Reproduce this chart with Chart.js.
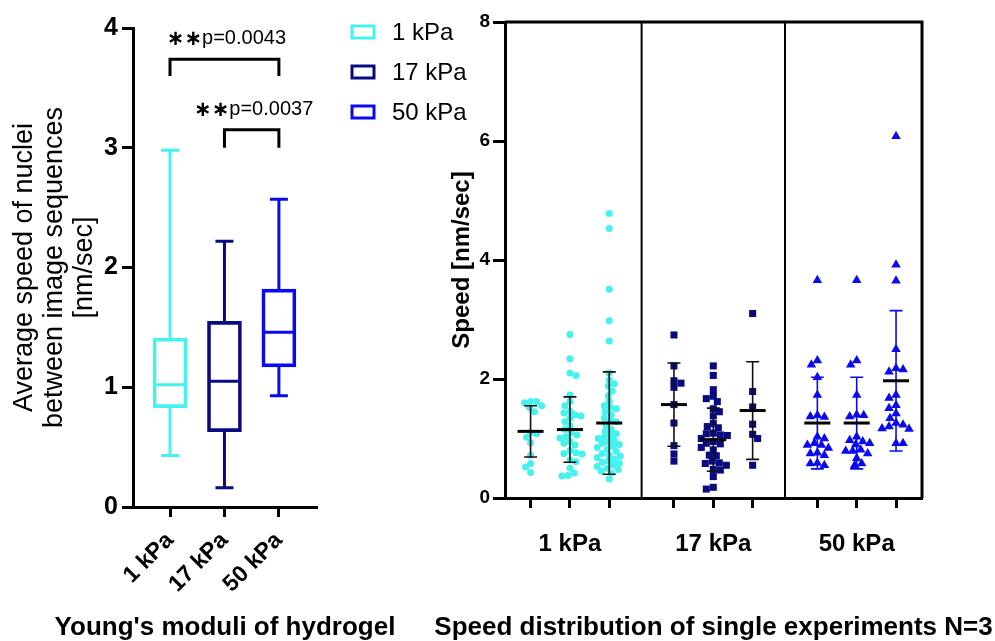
<!DOCTYPE html>
<html>
<head>
<meta charset="utf-8">
<script src="https://cdn.jsdelivr.net/npm/chart.js@4.4.1/dist/chart.umd.min.js"></script>
<style>
    html, body { margin: 0; padding: 0; background: #fff; width: 995px; height: 641px; overflow: hidden; }
    #boxWrap { position: absolute; left: 0; top: 0; width: 500px; height: 641px; }
    #dotWrap { position: absolute; left: 420px; top: 0; width: 575px; height: 641px; }
</style>
</head>
<body>
<div id="boxWrap"><canvas id="boxChart"></canvas></div>
<div id="dotWrap"><canvas id="dotChart"></canvas></div>
<script>
var categories = ['1 kPa', '17 kPa', '50 kPa'];
var colors = ['#45f2ee', '#0b0b80', '#0a0af2'];

// box plot (left)
var boxMin = [0.43, 0.16, 0.93];
var boxQ1 = [0.83, 0.63, 1.17];
var boxMedian = [1.02, 1.05, 1.46];
var boxQ3 = [1.41, 1.55, 1.82];
var boxMax = [2.98, 2.22, 2.57];
var compareFrom = [0, 1];
var compareTo = [2, 2];
var compareStars = ['\u2217\u2217', '\u2217\u2217'];
var compareText = ['p=0.0043', 'p=0.0037'];

// single experiments (right), three per stiffness
var speed1kA = [1.62, 1.62, 1.60, 1.55, 1.52, 1.45, 1.10, 1.08, 1.02, 0.93, 0.72, 0.58, 0.52, 0.43];
var speed1kB = [2.75, 2.34, 2.10, 2.06, 1.73, 1.62, 1.55, 1.46, 1.43, 1.40, 1.38, 1.34, 1.28, 1.22, 1.15, 1.10,
    1.06, 1.03, 1.01, 0.95, 0.92, 0.89, 0.80, 0.76, 0.75, 0.74, 0.64, 0.61, 0.50, 0.42, 0.38, 0.37];
var speed1kC = [4.78, 4.53, 3.51, 2.98, 2.64, 2.10, 1.98, 1.92, 1.88, 1.80, 1.72, 1.62, 1.55, 1.52, 1.50, 1.45,
    1.40, 1.35, 1.30, 1.28, 1.22, 1.15, 1.12, 1.08, 1.05, 1.02, 1.00, 0.97, 0.94, 0.92, 0.90, 0.87, 0.85, 0.82,
    0.78, 0.75, 0.72, 0.70, 0.68, 0.65, 0.62, 0.60, 0.58, 0.55, 0.53, 0.50, 0.48, 0.45, 0.42, 0.32];
var speed17kA = [2.74, 2.22, 1.97, 1.93, 1.86, 1.57, 1.26, 0.88, 0.74, 0.62];
var speed17kB = [2.22, 2.06, 1.82, 1.71, 1.67, 1.62, 1.50, 1.45, 1.38, 1.25, 1.20, 1.18, 1.09, 1.08, 1.06, 1.05,
    1.00, 0.95, 0.92, 0.91, 0.85, 0.81, 0.72, 0.71, 0.62, 0.59, 0.58, 0.55, 0.48, 0.47, 0.36, 0.18, 0.15];
var speed17kC = [3.10, 1.79, 1.53, 1.24, 1.07, 1.00, 0.55];
var speed50kA = [3.66, 2.31, 2.24, 2.03, 1.73, 1.39, 1.37, 1.36, 1.03, 1.00, 0.92, 0.89, 0.89, 0.84, 0.76, 0.75,
    0.72, 0.59, 0.58, 0.55];
var speed50kB = [3.66, 2.31, 2.24, 1.73, 1.40, 1.39, 1.37, 1.03, 0.97, 0.95, 0.92, 0.90, 0.81, 0.79, 0.79, 0.75,
    0.67, 0.58, 0.55];
var speed50kC = [6.08, 3.92, 3.65, 2.50, 2.18, 2.16, 2.12, 1.73, 1.68, 1.56, 1.51, 1.42, 1.34, 1.26, 1.23, 1.20,
    1.17, 1.16, 0.92, 0.92];
var groupMean = [1.12, 1.15, 1.26, 1.57, 0.98, 1.47, 1.26, 1.26, 1.97];
var groupSD = [0.43, 0.55, 0.86, 0.70, 0.53, 0.82, 0.77, 0.77, 1.18];

var experiments = [speed1kA, speed1kB, speed1kC, speed17kA, speed17kB, speed17kC, speed50kA, speed50kB, speed50kC];

var FONT = "'Liberation Sans', Arial, sans-serif";
Chart.defaults.font.family = FONT;
Chart.defaults.color = '#000';
Chart.defaults.animation = false;

// x title drawn by hand so it is not squeezed to the axis width
function drawXTitle(chart, text) {
    var ctx = chart.ctx, x = chart.scales.x;
    ctx.save();
    ctx.fillStyle = '#000';
    ctx.font = 'bold 26px ' + FONT;
    ctx.textAlign = 'center';
    ctx.textBaseline = 'middle';
    ctx.fillText(text, (x.left + x.right) / 2, chart.height - 13);
    ctx.restore();
}

// ---------- left: box plot ----------
var boxPlugin = {
    id: 'boxExtras',
    afterDatasetsDraw: function (chart) {
        var ctx = chart.ctx, x = chart.scales.x, y = chart.scales.y;
        ctx.save();
        ctx.lineWidth = 3;
        categories.forEach(function (c, i) {
            var px = x.getPixelForValue(i + 1);
            ctx.strokeStyle = colors[i];
            ctx.beginPath();
            ctx.moveTo(px, y.getPixelForValue(boxQ3[i]));
            ctx.lineTo(px, y.getPixelForValue(boxMax[i]));
            ctx.moveTo(px - 9, y.getPixelForValue(boxMax[i]));
            ctx.lineTo(px + 9, y.getPixelForValue(boxMax[i]));
            ctx.moveTo(px, y.getPixelForValue(boxQ1[i]));
            ctx.lineTo(px, y.getPixelForValue(boxMin[i]));
            ctx.moveTo(px - 9, y.getPixelForValue(boxMin[i]));
            ctx.lineTo(px + 9, y.getPixelForValue(boxMin[i]));
            ctx.moveTo(px - 16, y.getPixelForValue(boxMedian[i]));
            ctx.lineTo(px + 16, y.getPixelForValue(boxMedian[i]));
            ctx.stroke();
        });
        // significance brackets
        var tops = [3.74, 3.15], legs = [3.60, 3.0], texts = [3.91, 3.32];
        ctx.strokeStyle = '#000';
        ctx.fillStyle = '#000';
        ctx.textBaseline = 'middle';
        ctx.textAlign = 'left';
        compareFrom.forEach(function (f, k) {
            var x1 = x.getPixelForValue(f + 1), x2 = x.getPixelForValue(compareTo[k] + 1);
            ctx.beginPath();
            ctx.moveTo(x1, y.getPixelForValue(legs[k]));
            ctx.lineTo(x1, y.getPixelForValue(tops[k]));
            ctx.lineTo(x2, y.getPixelForValue(tops[k]));
            ctx.lineTo(x2, y.getPixelForValue(legs[k]));
            ctx.stroke();
            var starFont = 'bold 21px DejaVu Sans', textFont = '20px ' + FONT;
            ctx.font = starFont;
            var wStars = ctx.measureText(compareStars[k]).width;
            ctx.font = textFont;
            var wText = ctx.measureText(compareText[k]).width;
            var sx = (x1 + x2) / 2 + 2 - (wStars + wText) / 2, ty = y.getPixelForValue(texts[k]);
            ctx.fillText(compareText[k], sx + wStars, ty);
            ctx.font = starFont;
            ctx.fillText(compareStars[k], sx, ty + 1);
        });
        // legend
        ctx.font = '24px ' + FONT;
        categories.forEach(function (c, i) {
            var ly = 32 + i * 40;
            ctx.strokeStyle = colors[i];
            ctx.strokeRect(352, ly - 6, 22, 12);
            ctx.fillText(c, 392, ly + 1);
        });
        ctx.restore();
    },
    afterDraw: function (chart) { drawXTitle(chart, "Young's moduli of hydrogel"); }
};

new Chart(document.getElementById('boxChart'), {
    type: 'bar',
    data: {
        datasets: [{
            data: categories.map(function (c, i) { return { x: i + 1, y: [boxQ1[i], boxQ3[i]] }; }),
            backgroundColor: 'rgba(255,255,255,0)',
            borderColor: colors,
            borderWidth: 3,
            borderSkipped: false,
            barThickness: 34
        }]
    },
    options: {
        responsive: true,
        maintainAspectRatio: false,
        layout: { padding: { top: 28, right: 183, bottom: 0, left: 0 } },
        plugins: { legend: { display: false }, tooltip: { enabled: false } },
        scales: {
            x: {
                type: 'linear',
                min: 0.32,
                max: 3.7,
                offset: false,
                afterBuildTicks: function (s) { s.ticks = [1, 2, 3].map(function (v) { return { value: v }; }); },
                afterFit: function (s) { s.height = 134; },
                ticks: {
                    autoSkip: false, minRotation: 45, maxRotation: 45, padding: 10,
                    font: { size: 23, weight: 'bold' },
                    callback: function (v) { return categories[v - 1]; }
                },
                grid: { offset: false, drawOnChartArea: false, tickLength: 10, tickWidth: 3, tickColor: '#000' },
                border: { color: '#000', width: 3 }
            },
            y: {
                min: 0,
                max: 4,
                afterFit: function (s) { s.width = 133; },
                ticks: { stepSize: 1, padding: 4, font: { size: 25, weight: 'bold' } },
                grid: { drawOnChartArea: false, tickLength: 11, tickWidth: 3, tickColor: '#000' },
                border: { color: '#000', width: 3 },
                title: {
                    display: true,
                    text: ['Average speed of nuclei', 'between image sequences', '[nm/sec]'],
                    font: { size: 27, lineHeight: '30px' },
                    padding: { top: 10, bottom: 0 }
                }
            }
        }
    },
    plugins: [boxPlugin]
});

// ---------- right: dot plot ----------
function groupX(g) {
    return 0.65 + Math.floor(g / 3) * 3.645 + (g % 3);
}

function swarm(values, center, size) {
    var pxX = 39.3, pxY = 59.5;
    var placed = [];
    var sorted = values.slice().sort(function (a, b) { return b - a; });
    return sorted.map(function (v, i) {
        var py = v * pxY, off = 0;
        for (var d = 0; d < 80; d++) {
            var cands = d === 0 ? [0] : (i % 2 ? [d, -d] : [-d, d]);
            var found = null;
            for (var c = 0; c < cands.length; c++) {
                var px = cands[c];
                var free = placed.every(function (p) { return Math.hypot(p[0] - px, p[1] - py) >= size; });
                if (free) { found = px; break; }
            }
            if (found !== null) { off = found; break; }
        }
        placed.push([off, py]);
        return { x: center + off / pxX, y: v };
    });
}

var styles = ['circle', 'rect', 'triangle'];
var radii = [3.5, 5, 5.5];
var sizes = [6, 6.5, 7];

var dotDatasets = experiments.map(function (vals, g) {
    var k = Math.floor(g / 3);
    return {
        data: swarm(vals, groupX(g), sizes[k]),
        pointStyle: styles[k],
        pointRadius: radii[k],
        pointBackgroundColor: colors[k],
        pointBorderColor: colors[k],
        pointBorderWidth: 0
    };
});

var dotPlugin = {
    id: 'dotExtras',
    beforeDatasetsDraw: function (chart) {
        var ctx = chart.ctx, a = chart.chartArea, x = chart.scales.x;
        ctx.save();
        ctx.strokeStyle = '#000';
        ctx.lineWidth = 2;
        [1, 2].forEach(function (k) {
            var px = x.getPixelForValue((groupX(k * 3 - 1) + groupX(k * 3)) / 2);
            ctx.beginPath();
            ctx.moveTo(px, a.top);
            ctx.lineTo(px, a.bottom);
            ctx.stroke();
        });
        ctx.lineWidth = 3;
        ctx.beginPath();
        ctx.moveTo(a.left, a.top);
        ctx.lineTo(a.right, a.top);
        ctx.lineTo(a.right, a.bottom);
        ctx.stroke();
        ctx.restore();
    },
    afterDatasetsDraw: function (chart) {
        var ctx = chart.ctx, x = chart.scales.x, y = chart.scales.y;
        ctx.save();
        groupMean.forEach(function (m, g) {
            var px = x.getPixelForValue(groupX(g));
            var top = y.getPixelForValue(m + groupSD[g]), bot = y.getPixelForValue(m - groupSD[g]);
            ctx.strokeStyle = g >= 6 ? colors[2] : '#111';
            ctx.lineWidth = 1.6;
            ctx.beginPath();
            ctx.moveTo(px, top); ctx.lineTo(px, bot);
            ctx.moveTo(px - 6.5, top); ctx.lineTo(px + 6.5, top);
            ctx.moveTo(px - 6.5, bot); ctx.lineTo(px + 6.5, bot);
            ctx.stroke();
            ctx.strokeStyle = '#000';
            ctx.lineWidth = 3;
            ctx.beginPath();
            ctx.moveTo(px - 13, y.getPixelForValue(m));
            ctx.lineTo(px + 13, y.getPixelForValue(m));
            ctx.stroke();
        });
        ctx.restore();
    },
    afterDraw: function (chart) { drawXTitle(chart, 'Speed distribution of single experiments N=3'); }
};

new Chart(document.getElementById('dotChart'), {
    type: 'scatter',
    data: { datasets: dotDatasets },
    options: {
        responsive: true,
        maintainAspectRatio: false,
        layout: { padding: { top: 22, right: 73, bottom: 0, left: 0 } },
        plugins: { legend: { display: false }, tooltip: { enabled: false } },
        scales: {
            x: {
                type: 'linear',
                min: 0,
                max: 10.6,
                afterBuildTicks: function (s) { s.ticks = experiments.map(function (e, g) { return { value: groupX(g) }; }); },
                afterFit: function (s) { s.height = 143; },
                ticks: {
                    autoSkip: false, maxRotation: 0, padding: 22,
                    font: { size: 24, weight: 'bold' },
                    callback: function (v, i) { return i % 3 === 1 ? categories[Math.floor(i / 3)] : ''; }
                },
                grid: { drawOnChartArea: false, tickLength: 10, tickWidth: 3, tickColor: '#000' },
                border: { color: '#000', width: 3 }
            },
            y: {
                min: 0,
                max: 8,
                afterFit: function (s) { s.width = 85; },
                ticks: { stepSize: 2, padding: 3, font: { size: 19, weight: 'bold' } },
                grid: { drawOnChartArea: false, tickLength: 12, tickWidth: 3, tickColor: '#000' },
                border: { color: '#000', width: 3 },
                title: { display: true, text: 'Speed [nm/sec]', font: { size: 24, weight: 'bold' }, padding: { top: 28, bottom: 0 } }
            }
        }
    },
    plugins: [dotPlugin]
});
</script>
</body>
</html>
